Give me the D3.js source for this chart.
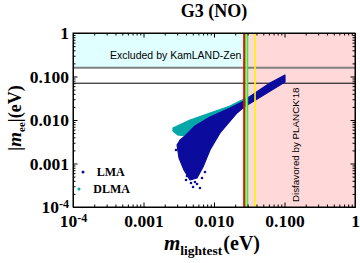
<!DOCTYPE html>
<html><head><meta charset="utf-8">
<script src="https://cdn.jsdelivr.net/npm/d3@7"></script>
<style>body{margin:0;background:#fff}svg{display:block}</style>
</head><body>
<svg id="c" width="360" height="263"></svg>
<script>
// ---- data ----
const majorTicks = [1e-4, 1e-3, 1e-2, 1e-1, 1];
const xTickLabels = ["10^-4", "0.001", "0.010", "0.100", "1"];
const yTickLabels = ["10^-4", "0.001", "0.010", "0.100", "1"];
const seriesNames = ["LMA", "DLMA"];
// LMA region boundary (m_lightest, |m_ee|)
const lmaM   = [0.00330,0.00388,0.00537,0.00877,0.01686,0.0267,0.0382,0.0622,0.1016,0.1016,0.0267,0.0212,0.01216,0.00877,0.00698,0.00574,0.00457,0.00375,0.00319,0.00299];
const lmaMee = [0.00347,0.00429,0.00728,0.0117,0.0189,0.0274,0.0418,0.0709,0.1082,0.0748,0.0199,0.0145,0.00503,0.00204,0.00083,0.000464,0.000418,0.00071,0.00134,0.00266];
// scattered LMA points at the lower edge
const lmaDotM   = [0.00504,0.00632,0.00472,0.00537,0.00676,0.00363,0.00414,0.00289,0.00745,0.00401,0.00574];
const lmaDotMee = [0.000288,0.000274,0.000356,0.000376,0.000464,0.00204,0.000516,0.00204,0.000638,0.000418,0.000338];
// DLMA region boundary
const dlmaM   = [0.00262,0.00457,0.00877,0.01686,0.0267,0.0382,0.0382,0.01686,0.00632,0.00388,0.00308,0.00262];
const dlmaMee = [0.00655,0.0100,0.0145,0.0210,0.0304,0.0396,0.0288,0.0153,0.00767,0.00429,0.00452,0.00559];
// bounds
const kamlandBound = 0.159;
const futureBound = 0.0701;
const planckBound = 0.0267;
const greenBand = [0.0282, 0.0301];
const yellowBound = 0.0382;

// ---- layout ----
const svg = d3.select("#c");
const L = 73, R = 355, T = 33, B = 207;
const x = d3.scaleLog().domain([1e-4, 1]).range([L, R]);
const y = d3.scaleLog().domain([1e-4, 1]).range([B, T]);
const serif = "'Liberation Serif','Times New Roman',serif";
const sans = "'Liberation Sans',Arial,sans-serif";
const blue = "#0b0b9e", teal = "#02a8a8";

// backgrounds
svg.append("rect").attr("x", x(1e-4)).attr("y", y(1)).attr("width", x(planckBound) - x(1e-4))
  .attr("height", y(kamlandBound) - y(1)).attr("fill", "#e0ffff");
svg.append("rect").attr("x", x(planckBound)).attr("y", y(1)).attr("width", x(1) - x(planckBound))
  .attr("height", y(1e-4) - y(1)).attr("fill", "#ffd9d9");

// horizontal bounds
svg.append("line").attr("x1", L).attr("x2", R).attr("y1", y(kamlandBound)).attr("y2", y(kamlandBound))
  .attr("stroke", "#808080").attr("stroke-width", 2);
svg.append("line").attr("x1", L).attr("x2", R).attr("y1", y(futureBound)).attr("y2", y(futureBound))
  .attr("stroke", "#000").attr("stroke-width", 1);

// texts in plot
svg.append("text").attr("x", x(3.35e-4)).attr("y", y(0.252)).attr("font-family", sans).attr("font-size", 10.5)
  .text("Excluded by KamLAND-Zen");
svg.append("text").attr("transform", `translate(${x(0.158)},${y(1.3e-4)}) rotate(-90)`)
  .attr("font-family", sans).attr("font-size", 9.8).text("Disfavored by PLANCK'18");

// data regions
const line = d3.line().x(d => x(d[0])).y(d => y(d[1])).curve(d3.curveLinearClosed);
const dlma = dlmaM.map((m, i) => [m, dlmaMee[i]]);
const lma = lmaM.map((m, i) => [m, lmaMee[i]]);
svg.append("path").attr("d", line(dlma)).attr("fill", teal).attr("stroke", teal).attr("stroke-width", 1.2).attr("stroke-linejoin", "round");
svg.append("path").attr("d", line(lma)).attr("fill", blue).attr("stroke", blue).attr("stroke-width", 1.2).attr("stroke-linejoin", "round");
svg.selectAll("circle.d").data(lmaDotM.map((m, i) => [m, lmaDotMee[i]])).enter().append("circle")
  .attr("cx", d => x(d[0])).attr("cy", d => y(d[1])).attr("r", 1.3).attr("fill", blue);

// vertical bounds
svg.append("rect").attr("x", x(greenBand[0])).attr("y", T).attr("width", x(greenBand[1]) - x(greenBand[0]))
  .attr("height", B - T).attr("fill", "#a8ffa8");
greenBand.forEach(g => svg.append("line").attr("x1", x(g)).attr("x2", x(g)).attr("y1", T).attr("y2", B)
  .attr("stroke", "#22dd22").attr("stroke-width", 1));
svg.append("line").attr("x1", x(planckBound)).attr("x2", x(planckBound)).attr("y1", T).attr("y2", B)
  .attr("stroke", "#ff0000").attr("stroke-width", 1.8);
svg.append("line").attr("x1", x(yellowBound)).attr("x2", x(yellowBound)).attr("y1", T).attr("y2", B)
  .attr("stroke", "#f8f800").attr("stroke-width", 1.6);

// axes (ticks inward on all sides)
const minor = [];
majorTicks.slice(0, -1).forEach(d => { for (let k = 2; k <= 9; k++) minor.push(d * k); });
function axes(gen, scale, tx, ty, isY, labels) {
  svg.append("g").attr("transform", `translate(${tx},${ty})`)
    .call(gen(scale).tickValues(minor).tickSize(-2.5).tickFormat(""));
  const g = svg.append("g").attr("transform", `translate(${tx},${ty})`)
    .call(gen(scale).tickValues(majorTicks).tickSize(-4.5).tickPadding(labels ? (isY ? 4 : 8) : 0)
      .tickFormat((d, i) => labels ? labels[i] : ""));
  g.selectAll("path.domain").remove();
  g.selectAll("line").attr("stroke", "#000");
  if (labels) {
    g.selectAll("text").attr("font-family", serif).attr("font-weight", "bold").attr("font-size", 17.5).attr("fill", "#000")
      .each(function (d, i) {
        const t = d3.select(this);
        if (labels[i].indexOf("^") >= 0) {
          const [b, e] = labels[i].split("^");
          t.text(b);
          t.append("tspan").attr("font-size", 12).attr("dy", "-0.45em").text(e);
        }
      });
  }
  return g;
}
axes(d3.axisBottom, x, 0, B, false, xTickLabels);
axes(d3.axisTop, x, 0, T, false, null);
axes(d3.axisLeft, y, L, 0, true, yTickLabels);
axes(d3.axisRight, y, R, 0, true, null);

// frame
svg.append("rect").attr("x", L).attr("y", T).attr("width", R - L).attr("height", B - T)
  .attr("fill", "none").attr("stroke", "#000").attr("stroke-width", 1);

// title
svg.append("text").attr("x", (L + R) / 2).attr("y", 17).attr("text-anchor", "middle")
  .attr("font-family", serif).attr("font-weight", "bold").attr("font-size", 18).text("G3 (NO)");

// x label
const xl = svg.append("text").attr("x", 212).attr("y", 250).attr("text-anchor", "middle")
  .attr("font-family", serif).attr("font-weight", "bold");
xl.append("tspan").attr("font-style", "italic").attr("font-size", 21).text("m");
xl.append("tspan").attr("font-size", 13.5).attr("dy", 5).text("lightest");
xl.append("tspan").attr("font-size", 20).attr("dy", -5).attr("dx", 1).text("(eV)");

// y label
const yl = svg.append("text").attr("transform", `translate(21,118) rotate(-90)`).attr("text-anchor", "middle")
  .attr("font-family", serif).attr("font-weight", "bold");
yl.append("tspan").attr("font-size", 18).text("|");
yl.append("tspan").attr("font-style", "italic").attr("font-size", 19).text("m");
yl.append("tspan").attr("font-size", 11).attr("dy", 4).text("ee");
yl.append("tspan").attr("font-size", 18).attr("dy", -4).text("|(eV)");

// legend
const legColors = [blue, teal];
const legPos = [[83, 172, 96.7, 176], [79, 189, 93.3, 193]];
seriesNames.forEach((n, i) => {
  svg.append("circle").attr("cx", legPos[i][0]).attr("cy", legPos[i][1]).attr("r", 1.5).attr("fill", legColors[i]);
  svg.append("text").attr("x", legPos[i][2]).attr("y", legPos[i][3]).attr("font-family", serif)
    .attr("font-weight", "bold").attr("font-size", 12).text(n);
});
</script>
</body></html>
